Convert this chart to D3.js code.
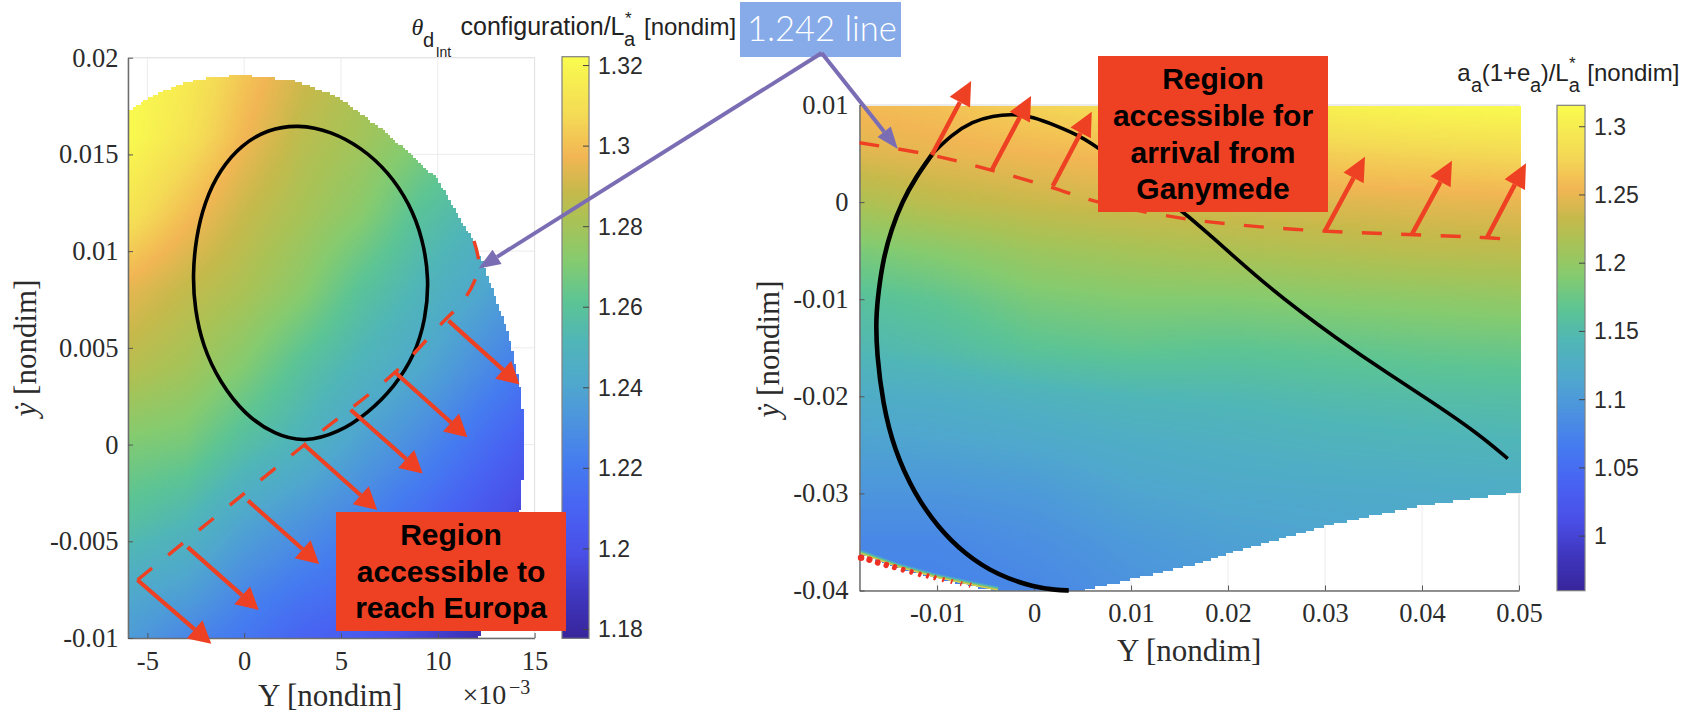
<!DOCTYPE html>
<html>
<head>
<meta charset="utf-8">
<script src="https://cdn.jsdelivr.net/npm/d3@7"></script>
<style>
    body { margin: 0; background: #fff; }
    svg { display: block; }
    .tick-label { font-family: "Liberation Serif", serif; font-size: 26.5px; fill: #2b2b2b; }
    .cbar-label { font-family: "Liberation Sans", sans-serif; font-size: 23px; fill: #2b2b2b; }
    .title { font-family: "Liberation Sans", sans-serif; font-size: 24px; fill: #222; }
    .title-sub { font-family: "Liberation Sans", sans-serif; font-size: 20px; fill: #222; }
    .axis-label { font-family: "Liberation Serif", serif; font-size: 31px; fill: #2b2b2b; }
    .region { font-family: "Liberation Sans", sans-serif; font-size: 30px; font-weight: bold; fill: #000; text-anchor: middle; }
</style>
</head>
<body>
<div id="chart"></div>
<script>
// colormap, as fractions of each colorbar
var cmapStops = [0, 0.08, 0.15, 0.22, 0.30, 0.37, 0.44, 0.51, 0.58, 0.65, 0.72, 0.77, 0.83, 0.90, 1];
var cmapColors = ['#37259a', '#4038c2', '#4a50e8', '#4862f2', '#457bf0', '#4c92df', '#4fa8cd', '#50b5b8',
    '#5cc494', '#85cb6f', '#aac255', '#c7b94b', '#f2b654', '#f4da55', '#f9fb4e'];

// left plot (both axes in units of 1e-3)
var leftXTicks = [-5, 0, 5, 10, 15];
var leftYTicks = [-10, -5, 0, 5, 10, 15, 20];
var leftYLabels = ['-0.01', '-0.005', '0', '0.005', '0.01', '0.015', '0.02'];
var leftCbarTicks = [1.18, 1.2, 1.22, 1.24, 1.26, 1.28, 1.3, 1.32];
var leftFieldX = [-6, -3, 0, 3, 6, 9, 12, 15];
var leftFieldY = [20, 16, 12, 8, 4, 0, -4, -8, -10];
var leftField = [
    [1.322, 1.322, 1.312, 1.295, 1.285, 1.27, 1.258, 1.241, 1.236],
    [1.316, 1.312, 1.3, 1.288, 1.28, 1.268, 1.252, 1.236, 1.226],
    [1.303, 1.298, 1.289, 1.282, 1.271, 1.257, 1.24, 1.225, 1.219],
    [1.292, 1.286, 1.281, 1.273, 1.259, 1.249, 1.232, 1.217, 1.21],
    [1.283, 1.28, 1.273, 1.26, 1.25, 1.238, 1.224, 1.212, 1.205],
    [1.28, 1.272, 1.26, 1.251, 1.242, 1.228, 1.214, 1.201, 1.195],
    [1.27, 1.262, 1.252, 1.242, 1.23, 1.216, 1.203, 1.191, 1.185],
    [1.26, 1.253, 1.244, 1.231, 1.218, 1.204, 1.192, 1.181, 1.178]
];
var leftRegion = [[-6, 17.2], [-5, 17.9], [-3.4, 18.6], [-1.7, 19], [0, 19.1], [2.6, 18.8], [4.73, 18], [6.98, 16.4],
    [8.6, 15], [9.97, 13.7], [11.16, 11.6], [11.87, 10.5], [12.69, 8.3], [13.6, 5.75], [14.2, 3.15], [14.36, 1.75],
    [14.46, 0.2], [14.42, -0.8], [14.26, -3.07], [13.9, -5], [13.4, -7], [12.6, -9], [12.07, -10], [-6, -10]];
var leftContour = [[2.78, 16.55], [4.5, 16.2], [6.05, 15.35], [7.43, 14.12], [8.55, 12.45], [9.23, 10.64], [9.55, 8.57],
    [9.38, 6.5], [8.8, 4.6], [7.77, 3.0], [6.4, 1.62], [4.85, 0.6], [3.13, 0.12], [1.58, 0.5], [0.03, 1.55],
    [-1.26, 3.22], [-2.15, 5.12], [-2.55, 7.02], [-2.66, 8.74], [-2.5, 10.64], [-2.05, 12.54], [-1.26, 14.2],
    [-0.14, 15.5], [1.23, 16.3]];
var leftDashed = [[-5.51, -7], [3.1, -0.02], [7.79, 3.74], [10.34, 6.41], [11.26, 7.36], [11.87, 8.4], [12.12, 9.35], [11.87, 10.52]];
var leftArrows = [[-5.51, -7, -1.7, -10.3], [-2.92, -5.3, 0.75, -8.55], [0.2, -2.9, 3.87, -6.17], [3.14, -0.05, 6.87, -3.38],
    [5.5, 1.8, 9.22, -1.5], [7.79, 3.74, 11.53, 0.38], [10.55, 6.41, 14.22, 3.1]];

// right plot
var rightXTicks = [-0.01, 0, 0.01, 0.02, 0.03, 0.04, 0.05];
var rightYTicks = [-0.04, -0.03, -0.02, -0.01, 0, 0.01];
var rightCbarTicks = [1, 1.05, 1.1, 1.15, 1.2, 1.25, 1.3];
var rightFieldX = [-0.018, -0.01, 0, 0.01, 0.02, 0.03, 0.04, 0.05];
var rightFieldY = [0.01, 0.005, 0, -0.005, -0.01, -0.015, -0.02, -0.025, -0.03, -0.035, -0.04];
var rightField = [
    [1.258, 1.245, 1.218, 1.185, 1.16, 1.145, 1.124, 1.11, 1.095, 1.08, 1.075],
    [1.262, 1.25, 1.228, 1.194, 1.168, 1.152, 1.127, 1.112, 1.095, 1.08, 1.075],
    [1.275, 1.255, 1.235, 1.207, 1.185, 1.165, 1.135, 1.117, 1.10, 1.088, 1.08],
    [1.285, 1.26, 1.24, 1.213, 1.19, 1.17, 1.142, 1.125, 1.113, 1.10, 1.092],
    [1.295, 1.268, 1.242, 1.218, 1.19, 1.167, 1.145, 1.13, 1.118, 1.108, 1.10],
    [1.305, 1.272, 1.245, 1.222, 1.194, 1.17, 1.15, 1.135, 1.12, 1.112, 1.105],
    [1.312, 1.276, 1.248, 1.226, 1.197, 1.174, 1.153, 1.138, 1.122, 1.115, 1.11],
    [1.315, 1.28, 1.25, 1.228, 1.2, 1.176, 1.155, 1.14, 1.125, 1.118, 1.112]
];
var rightEdge = [[-0.018, -0.0362], [-0.01405, -0.0376], [-0.0103, -0.03863], [-0.00547, -0.03966], [-0.00374, -0.04]];
var rightRegion = [[-0.018, 0.01], [0.05, 0.01], [0.05, -0.0298], [0.04, -0.0312], [0.03, -0.0333], [0.02, -0.0361],
    [0.0172, -0.0371], [0.01, -0.0388], [0.0045, -0.04]].concat(rightEdge.slice().reverse());
var rightContourThick = [[0.00358, -0.04], [0.0023, -0.03995], [0.00003, -0.03966], [-0.00374, -0.03845], [-0.00719, -0.03622], [-0.00993, -0.03347],
    [-0.01234, -0.03003], [-0.0144, -0.02557], [-0.0156, -0.02075], [-0.01622, -0.0156], [-0.01632, -0.01199],
    [-0.01601, -0.0089], [-0.01553, -0.0058], [-0.01474, -0.00289], [-0.01361, 0.00003], [-0.01216, 0.00261], [-0.01044, 0.00502]];
var rightContourThin = [[-0.01044, 0.00502], [-0.00856, 0.00691], [-0.00632, 0.00832], [-0.00426, 0.00889], [-0.0022, 0.00907],
    [-0.00013, 0.00879], [0.00227, 0.00787], [0.00467, 0.00684], [0.00673, 0.0056], [0.01515, -0.00082], [0.01722, -0.00255],
    [0.02443, -0.00907], [0.03144, -0.01423], [0.03646, -0.01763], [0.04124, -0.02072], [0.04574, -0.02381], [0.04884, -0.02642]];
var rightDashed = [[-0.018, 0.00611], [-0.01062, 0.00485], [-0.00443, 0.0033], [0.00175, 0.00152], [0.00657, 0.00003],
    [0.01515, -0.00165], [0.02134, -0.00237], [0.02938, -0.00296], [0.0375, -0.0033], [0.04557, -0.00361], [0.05, -0.0039]];
var rightArrows = [[-0.01054, 0.00485, -0.00649, 0.01247], [-0.00436, 0.0033, -0.00031, 0.01093], [0.00193, 0.00165, 0.00595, 0.00931],
    [0.03, -0.00296, 0.03412, 0.00467], [0.03897, -0.0033, 0.04309, 0.00426], [0.0467, -0.00364, 0.05072, 0.00399]];
var redEdgeX = [-0.01784, -0.01698, -0.01613, -0.01526, -0.01441, -0.01354, -0.01268, -0.01182, -0.01103, -0.01027, -0.00942, -0.00856, -0.00759, -0.00667];
var redEdgeY = [-0.03663, -0.03684, -0.03715, -0.03742, -0.03766, -0.03794, -0.03818, -0.03845, -0.03862, -0.03883, -0.03904, -0.03924, -0.03948, -0.03965];

var RED = '#ee4023', PURPLE = '#7b6db4';

var svg = d3.select('#chart').append('svg')
    .attr('width', 1696)
    .attr('height', 718);

var defs = svg.append('defs');

var leftPlot = {
    x: d3.scaleLinear().domain([-6, 15]).range([128, 534.6]),
    y: d3.scaleLinear().domain([-10, 20]).range([638, 57.7]),
    cbar: d3.scaleLinear().domain([1.1778, 1.3222]).range([638.3, 56.7]),
    cbarX: 562, cbarW: 27,
    step: 0.13
};
var rightPlot = {
    x: d3.scaleLinear().domain([-0.018, 0.05]).range([859.5, 1519]),
    y: d3.scaleLinear().domain([-0.04, 0.01]).range([590.5, 105]),
    cbar: d3.scaleLinear().domain([0.96, 1.3157]).range([590.7, 105.3]),
    cbarX: 1557, cbarW: 28,
    step: 0.00026
};

function colorFor(plot) {
    var toFraction = d3.scaleLinear().domain(plot.cbar.domain()).range([0, 1]).clamp(true);
    var ramp = d3.scaleLinear().domain(cmapStops).range(cmapColors);
    return function (v) { return ramp(toFraction(v)); };
}

// bilinear look up in a field of read values, like shading interp
function fieldSampler(xs, ys, field) {
    var ix = d3.scaleLinear().domain(xs).range(d3.range(xs.length)).clamp(true);
    var iy = d3.scaleLinear().domain(ys).range(d3.range(ys.length)).clamp(true);
    return function (x, y) {
        var fx = ix(x), fy = iy(y);
        var i = Math.min(Math.floor(fx), xs.length - 2), j = Math.min(Math.floor(fy), ys.length - 2);
        var a = fx - i, b = fy - j;
        return (1 - a) * ((1 - b) * field[i][j] + b * field[i][j + 1]) +
            a * ((1 - b) * field[i + 1][j] + b * field[i + 1][j + 1]);
    };
}

function drawGrid(plot, g, xTicks, yTicks) {
    var xr = plot.x.range(), yr = plot.y.range();
    g.selectAll('line.gx').data(xTicks).enter().append('line').classed('gx', true)
        .attr('x1', function (d) { return plot.x(d); }).attr('x2', function (d) { return plot.x(d); })
        .attr('y1', yr[0]).attr('y2', yr[1]).attr('stroke', '#ececec');
    g.selectAll('line.gy').data(yTicks).enter().append('line').classed('gy', true)
        .attr('y1', function (d) { return plot.y(d); }).attr('y2', function (d) { return plot.y(d); })
        .attr('x1', xr[0]).attr('x2', xr[1]).attr('stroke', '#ececec');
    g.append('rect').attr('x', xr[0]).attr('y', yr[1]).attr('width', xr[1] - xr[0]).attr('height', yr[0] - yr[1])
        .attr('fill', 'none').attr('stroke', '#e2e2e2');
}

function drawField(plot, g, region, sample) {
    var color = colorFor(plot);
    var xd = plot.x.domain(), yd = plot.y.domain();
    var cells = [];
    d3.range(xd[0], xd[1], plot.step).forEach(function (x) {
        d3.range(yd[0], yd[1], plot.step).forEach(function (y) {
            var cx = x + plot.step / 2, cy = y + plot.step / 2;
            if (d3.polygonContains(region, [cx, cy])) {
                cells.push({x: x, y: y, v: sample(cx, cy)});
            }
        });
    });
    var w = plot.x(xd[0] + plot.step) - plot.x(xd[0]);
    var h = plot.y(yd[0]) - plot.y(yd[0] + plot.step);
    g.append('g').attr('shape-rendering', 'crispEdges')
        .selectAll('rect').data(cells).enter().append('rect')
        .attr('x', function (d) { return plot.x(d.x); })
        .attr('y', function (d) { return plot.y(d.y) - h; })
        .attr('width', w + 0.6)
        .attr('height', h + 0.6)
        .attr('fill', function (d) { return color(d.v); });
}

function plain(d) { return String(+d.toFixed(2)); }

function drawAxes(plot, g, xTicks, yTicks, xFormat, yFormat, xPad, yPad) {
    var xr = plot.x.range(), yr = plot.y.range();
    var xAxis = d3.axisBottom(plot.x).tickValues(xTicks).tickFormat(xFormat)
        .tickSizeInner(-5).tickSizeOuter(0).tickPadding(xPad);
    var yAxis = d3.axisLeft(plot.y).tickValues(yTicks).tickFormat(yFormat)
        .tickSizeInner(-5).tickSizeOuter(0).tickPadding(yPad);
    [g.append('g').attr('transform', 'translate(0,' + yr[0] + ')').call(xAxis),
     g.append('g').attr('transform', 'translate(' + xr[0] + ',0)').call(yAxis)].forEach(function (a) {
        a.select('.domain').attr('stroke', '#6e6e6e').attr('stroke-width', 1.5);
        a.selectAll('.tick line').attr('stroke', '#555');
        a.selectAll('.tick text')
            .style('font-family', '"Liberation Serif", serif')
            .style('font-size', '26.5px')
            .style('fill', '#2b2b2b');
    });
}

function drawColorbar(plot, g, ticks, format) {
    var color = colorFor(plot);
    var d = plot.cbar.domain();
    var stepV = (d[1] - d[0]) / 240;
    var h = Math.abs(plot.cbar(d[0] + stepV) - plot.cbar(d[0]));
    g.append('g').attr('shape-rendering', 'crispEdges')
        .selectAll('rect').data(d3.range(d[0], d[1] - stepV / 2, stepV)).enter().append('rect')
        .attr('x', plot.cbarX).attr('width', plot.cbarW)
        .attr('y', function (v) { return plot.cbar(v) - h; })
        .attr('height', h + 0.6)
        .attr('fill', function (v) { return color(v + stepV / 2); });
    g.append('rect').attr('x', plot.cbarX).attr('width', plot.cbarW)
        .attr('y', plot.cbar(d[1])).attr('height', plot.cbar(d[0]) - plot.cbar(d[1]))
        .attr('fill', 'none').attr('stroke', '#808080').attr('stroke-width', 1.2);
    var t = g.selectAll('g.cb').data(ticks).enter().append('g').classed('cb', true)
        .attr('transform', function (v) { return 'translate(' + (plot.cbarX + plot.cbarW) + ',' + plot.cbar(v) + ')'; });
    t.append('line').attr('x1', -6).attr('x2', 0).attr('stroke', '#444');
    t.append('text').attr('class', 'cbar-label').attr('x', 9).attr('y', 8).text(format);
}

// straight arrow with a filled head, ends given in pixels
function drawArrow(g, x0, y0, x1, y1, color, width, headLen, headW) {
    var len = Math.hypot(x1 - x0, y1 - y0), ux = (x1 - x0) / len, uy = (y1 - y0) / len;
    var bx = x1 - ux * headLen, by = y1 - uy * headLen;
    g.append('line').attr('x1', x0).attr('y1', y0).attr('x2', bx).attr('y2', by)
        .attr('stroke', color).attr('stroke-width', width);
    g.append('polygon').attr('fill', color).attr('points', [
        [x1, y1],
        [bx - uy * headW / 2, by + ux * headW / 2],
        [bx + uy * headW / 2, by - ux * headW / 2]
    ].join(' '));
}

function drawOverlay(plot, g, contour, curve, width) {
    var line = d3.line().curve(curve)
        .x(function (d) { return plot.x(d[0]); })
        .y(function (d) { return plot.y(d[1]); });
    return g.append('path').attr('d', line(contour)).attr('fill', 'none')
        .attr('stroke', '#000').attr('stroke-width', width);
}

function label(text, x, y, cls) {
    return svg.append('text').attr('class', cls).attr('x', x).attr('y', y).text(text);
}

// ---------- left plot
var left = svg.append('g');
drawGrid(leftPlot, left, leftXTicks, leftYTicks);
drawField(leftPlot, left, leftRegion, fieldSampler(leftFieldX, leftFieldY, leftField));
drawAxes(leftPlot, left, leftXTicks, leftYTicks, plain, function (d, i) { return leftYLabels[i]; }, 13, 9.5);
drawColorbar(leftPlot, left, leftCbarTicks, d3.format('~g'));
drawOverlay(leftPlot, left, leftContour, d3.curveBasisClosed, 3.6);
drawOverlay(leftPlot, left, leftDashed, d3.curveCatmullRom.alpha(0.5), 3.4)
    .attr('stroke', RED).attr('stroke-dasharray', '19 20.6');
leftArrows.forEach(function (a) {
    drawArrow(left, leftPlot.x(a[0]), leftPlot.y(a[1]), leftPlot.x(a[2]), leftPlot.y(a[3]), RED, 4.2, 22, 24);
});

// ---------- right plot
var right = svg.append('g');
drawGrid(rightPlot, right, rightXTicks, rightYTicks);
drawField(rightPlot, right, rightRegion, fieldSampler(rightFieldX, rightFieldY, rightField));

// the field jumps up in a thin band along the lower left edge
defs.append('clipPath').attr('id', 'right-clip').append('polygon')
    .attr('points', rightRegion.map(function (d) { return [rightPlot.x(d[0]), rightPlot.y(d[1])]; }).join(' '));
var edgeBand = right.append('g').attr('clip-path', 'url(#right-clip)');
[[8, '#4f9fd0'], [5.5, '#5cc494'], [3.4, '#aac255'], [1.6, '#f2d054']].forEach(function (s) {
    drawOverlay(rightPlot, edgeBand, rightEdge, d3.curveLinear, s[0]).attr('stroke', s[1]);
});

drawAxes(rightPlot, right, rightXTicks, rightYTicks, plain, plain, 12.5, 11);
drawColorbar(rightPlot, right, rightCbarTicks, d3.format('~g'));
drawOverlay(rightPlot, right, rightContourThick, d3.curveBasis, 4.6);
drawOverlay(rightPlot, right, rightContourThin, d3.curveBasis, 3.6);
drawOverlay(rightPlot, right, rightDashed, d3.curveCatmullRom.alpha(0.5), 3.4)
    .attr('stroke', RED).attr('stroke-dasharray', '20 19.4');

// red ticks thin out along the lower edge
right.selectAll('line.red-edge').data(redEdgeX).enter().append('line').classed('red-edge', true)
    .attr('x1', function (d) { return rightPlot.x(d); })
    .attr('y1', function (d, i) { return rightPlot.y(redEdgeY[i]); })
    .attr('x2', function (d, i) { return rightPlot.x(d) + i * 0.12; })
    .attr('y2', function (d, i) { return rightPlot.y(redEdgeY[i]) - i * 0.3; })
    .attr('stroke', '#ee2f23')
    .attr('stroke-width', function (d, i) { return Math.max(1.4, 6.6 - i * 0.45); })
    .attr('stroke-linecap', 'round');

rightArrows.forEach(function (a) {
    drawArrow(right, rightPlot.x(a[0]), rightPlot.y(a[1]), rightPlot.x(a[2]), rightPlot.y(a[3]), RED, 4.5, 24, 23);
});

// ---------- text
label('Y [nondim]', 258, 706, 'axis-label');
label('Y [nondim]', 1117, 661, 'axis-label');
label('×10', 462.5, 704, 'tick-label').style('font-size', '28px');
label('−3', 509, 694, 'tick-label').style('font-size', '20px');

[[36, 348], [779, 349]].forEach(function (p) {
    var t = svg.append('text').attr('class', 'axis-label').attr('text-anchor', 'middle')
        .attr('transform', 'translate(' + p[0] + ',' + p[1] + ') rotate(-90)');
    t.append('tspan').style('font-style', 'italic').text('ẏ');
    t.append('tspan').text(' [nondim]');
});

// colorbar titles
label('θ', 411.5, 35, 'title').style('font-family', '"Liberation Serif", serif').style('font-style', 'italic');
label('d', 423, 46.7, 'title-sub');
label('Int', 435.7, 56.7, 'title-sub').style('font-size', '14px');
label('configuration/L', 460.5, 35, 'title').style('font-size', '25px');
label('*', 625, 24, 'title-sub').style('font-size', '17px');
label('a', 624, 45.7, 'title-sub');
label('[nondim]', 644, 35, 'title');

label('a', 1457.3, 80.7, 'title');
label('a', 1471, 92.3, 'title-sub');
label('(1+e', 1481.7, 80.7, 'title');
label('a', 1530, 92.3, 'title-sub');
label(')/L', 1540.7, 80.7, 'title');
label('*', 1569, 69, 'title-sub').style('font-size', '17px');
label('a', 1568.7, 92.3, 'title-sub');
label('[nondim]', 1587.3, 80.7, 'title');

// ---------- callouts
svg.append('rect').attr('x', 336).attr('y', 512).attr('width', 230).attr('height', 119).attr('fill', RED);
[['Region', 545], ['accessible to', 581.7], ['reach Europa', 618]].forEach(function (d) {
    svg.append('text').attr('class', 'region').attr('x', 451).attr('y', d[1]).text(d[0]);
});

svg.append('rect').attr('x', 1098).attr('y', 56).attr('width', 230).attr('height', 156).attr('fill', RED);
[['Region', 89.3], ['accessible for', 126], ['arrival from', 162.7], ['Ganymede', 199.3]].forEach(function (d) {
    svg.append('text').attr('class', 'region').attr('x', 1213).attr('y', d[1]).text(d[0]);
});

svg.append('rect').attr('x', 740).attr('y', 2).attr('width', 161).attr('height', 55).attr('fill', '#86abe8');
label('1.242 line', 747, 40.7, '')
    .style('font-family', 'Lato, sans-serif').style('font-weight', 300).style('font-size', '34.5px').style('fill', '#fff');

var callout = svg.append('g');
var vertexX = 821.7, vertexY = 53;
drawArrow(callout, vertexX, vertexY, leftPlot.x(12.1), leftPlot.y(9.1), PURPLE, 4, 22, 17);
drawArrow(callout, vertexX, vertexY, rightPlot.x(-0.01405), rightPlot.y(0.00546), PURPLE, 4, 22, 17);
</script>
</body>
</html>
